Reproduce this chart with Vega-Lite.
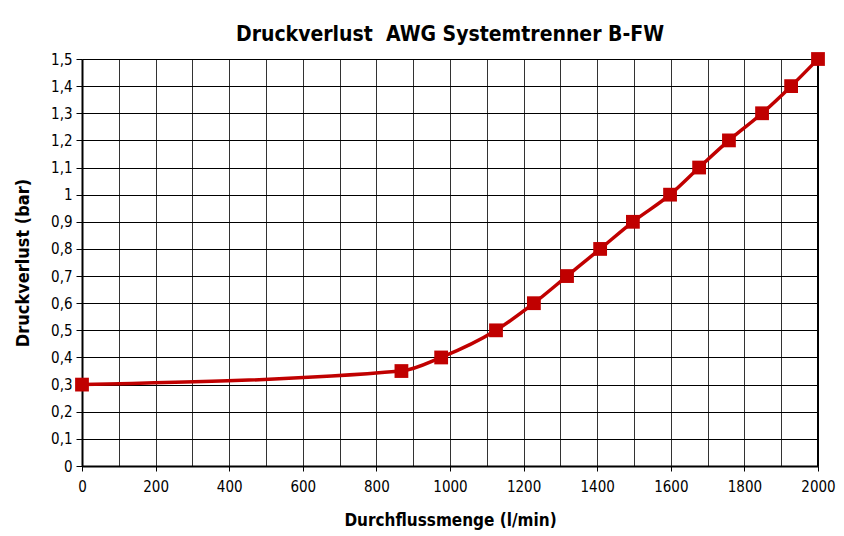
{
  "$schema": "https://vega.github.io/schema/vega-lite/v6.json",
  "width": 736,
  "height": 407,
  "autosize": "none",
  "padding": {"left": 82, "top": 59, "right": 26, "bottom": 70},
  "background": "white",
  "config": {
    "locale": {"number": {"decimal": ",", "thousands": "", "grouping": [3], "currency": ["", " €"]}},
    "font": "'Liberation Sans Narrow', 'DejaVu Sans Condensed', 'Liberation Sans', sans-serif",
    "view": {"stroke": null}
  },
  "title": {
    "text": "Druckverlust\u00a0 AWG Systemtrenner B-FW",
    "fontSize": 21,
    "fontWeight": "bold",
    "color": "black",
    "anchor": "middle",
    "offset": 7
  },
  "data": {
    "values": [
      {"flow": 0, "loss": 0.3},
      {"flow": 868, "loss": 0.35},
      {"flow": 976, "loss": 0.4},
      {"flow": 1125, "loss": 0.5},
      {"flow": 1228, "loss": 0.6},
      {"flow": 1318, "loss": 0.7},
      {"flow": 1408, "loss": 0.8},
      {"flow": 1497, "loss": 0.9},
      {"flow": 1598, "loss": 1.0},
      {"flow": 1677, "loss": 1.1},
      {"flow": 1758, "loss": 1.2},
      {"flow": 1848, "loss": 1.3},
      {"flow": 1927, "loss": 1.4},
      {"flow": 2000, "loss": 1.5}
    ]
  },
  "encoding": {
    "x": {
      "field": "flow",
      "type": "quantitative",
      "scale": {"domain": [0, 2000], "nice": false},
      "axis": {
        "title": "Durchflussmenge (l/min)",
        "values": [0,100,200,300,400,500,600,700,800,900,1000,1100,1200,1300,1400,1500,1600,1700,1800,1900,2000],
        "format": "d",
        "labelExpr": "datum.value % 200 === 0 ? datum.label : ''",
        "tickOpacity": {"condition": {"test": "datum.value % 200 === 0", "value": 1}, "value": 0},
        "tickSize": 5,
        "tickColor": "black",
        "tickWidth": 1,
        "grid": true,
        "gridColor": "#333333",
        "gridWidth": 1,
        "gridOpacity": 1,
        "domainColor": "black",
        "domainWidth": 2,
        "labelFontSize": 15,
        "labelColor": "black",
        "labelPadding": 8,
        "labelFlush": false,
        "labelOverlap": false,
        "titleFontSize": 17,
        "titleFontWeight": "bold",
        "titleColor": "black",
        "titlePadding": 18
      }
    },
    "y": {
      "field": "loss",
      "type": "quantitative",
      "scale": {"domain": [0, 1.5], "nice": false},
      "axis": {
        "title": "Druckverlust (bar)",
        "values": [0,0.1,0.2,0.3,0.4,0.5,0.6,0.7,0.8,0.9,1,1.1,1.2,1.3,1.4,1.5],
        "format": ".1~f",
        "tickSize": 6,
        "tickColor": "black",
        "grid": true,
        "gridColor": "black",
        "gridWidth": 1,
        "gridOpacity": 1,
        "domainColor": "black",
        "domainWidth": 2,
        "labelFontSize": 15,
        "labelColor": "black",
        "labelPadding": 4,
        "labelFlush": false,
        "labelOverlap": false,
        "titleFontSize": 18,
        "titleFontWeight": "bold",
        "titleColor": "black",
        "titlePadding": 18
      }
    }
  },
  "layer": [
    {
      "mark": {"type": "rule", "color": "black", "strokeWidth": 1},
      "encoding": {"x": {"datum": 2000}, "y": null}
    },
    {
      "mark": {"type": "line", "color": "#C00000", "strokeWidth": 3.5, "interpolate": "monotone"}
    },
    {
      "mark": {"type": "point", "shape": "square", "filled": true, "color": "#C00000", "opacity": 1, "size": 190}
    }
  ]
}
